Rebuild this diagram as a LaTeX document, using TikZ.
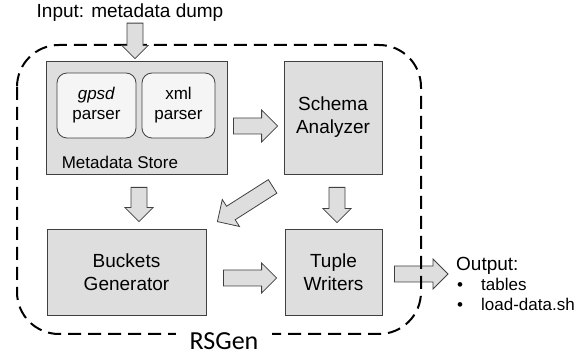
\documentclass[tikz,border=0pt]{standalone}
\usepackage{fontspec}
\setmainfont{Liberation Sans}
\newfontfamily\rsfont{Carlito}
\usepackage{tikz}
\usetikzlibrary{calc}

\newcommand{\bigtxt}{\fontsize{19}{23}\selectfont}
\newcommand{\subtxt}{\fontsize{17}{20}\selectfont}

% block arrow: [half head width]{from}{to}
\newcommand{\fatarrow}[3][15]{%
	\coordinate (fa-s) at (#2);
	\coordinate (fa-e) at (#3);
	\coordinate (fa-h) at ($(fa-e)!#1pt!(fa-s)$);
	\draw[fat arrow] ($(fa-s)!8pt!90:(fa-e)$) -- ($(fa-h)!8pt!90:(fa-e)$)
	-- ($(fa-h)!#1pt!90:(fa-e)$) -- (fa-e) -- ($(fa-h)!#1pt!-90:(fa-e)$)
	-- ($(fa-h)!8pt!-90:(fa-e)$) -- ($(fa-s)!8pt!-90:(fa-e)$) -- cycle;}

\begin{document}
\begin{tikzpicture}[x=1pt,y=-1pt,
	box/.style={rectangle, draw=black!75, fill=black!13, line width=0.8pt, align=center, font=\bigtxt},
	parser/.style={rectangle, rounded corners=10pt, draw=black!75, fill=black!4, line width=0.8pt, align=center, font=\subtxt, minimum height=65pt},
	fat arrow/.style={draw=black!75, fill=black!13, line width=0.8pt},
	txt/.style={inner sep=0pt},
	region/.style={draw=black, line width=2pt, dash pattern=on 13pt off 7pt, rounded corners=42pt}]
	\useasboundingbox (0,0) rectangle (587,355);
	
	% Nodes
	\node[box, minimum width=181pt, minimum height=113pt] (meta) at (136.5,117.5) {};
	\node[parser, minimum width=79pt] (gpsd) at (96.5,105.5) {\textit{gpsd}\\parser};
	\node[parser, minimum width=73pt] (xml) at (178.5,105.5) {xml\\parser};
	\node[txt, anchor=base west, font=\subtxt] (store) at ($(meta.south west)+(16,-6)$) {Metadata Store};
	\node[box, minimum width=98pt, minimum height=113pt] (schema) at (333,117.5) {Schema\\Analyzer};
	\node[box, minimum width=159pt, minimum height=86pt] (buckets) at (126.5,272) {Buckets\\Generator};
	\node[box, minimum width=97pt, minimum height=86pt] (tuple) at (333.5,272) {Tuple\\Writers};
	
	\node[txt, anchor=base, font=\bigtxt] (input) at (130,17.5) {Input: metadata dump};
	\node[txt, anchor=base west, font=\bigtxt] (output) at (456,270.7) {Output:};
	\node[txt, anchor=base west, font=\subtxt] (out1) at (457,290.7) {\makebox[24pt][l]{\textbullet}tables};
	\node[txt, anchor=base west, font=\subtxt] (out2) at (457,310.7) {\makebox[24pt][l]{\textbullet}load-data.sh};
	
	% Arrows
	\fatarrow[16]{$(meta.east)+(6,8.5)$}{$(schema.west)+(-6,8.5)$}
	\fatarrow[14]{$(meta.south)+(2.5,13)$}{$(buckets.north)+(12.5,-7)$}
	\fatarrow[14]{$(schema.south)+(4,13)$}{$(tuple.north)+(3.5,-6)$}
	\fatarrow[16]{$(schema.south west)+(-11,12)$}{$(buckets.north east)+(11,-7)$}
	\fatarrow[15]{$(buckets.east)+(17,6)$}{$(tuple.west)+(-8,6)$}
	\fatarrow[15]{$(tuple.east)+(12,2)$}{$(output.base west)+(-8,3.3)$}
	
	% RSGen region
	\draw[region] (17,45) rectangle (421,334);
	\node[fill=white, inner xsep=14pt, inner ysep=1pt, font=\rsfont\fontsize{26}{30}\selectfont] (rsgen) at (224,341.5) {RSGen};
	
	\fatarrow[13]{$(input.south)+(5,1.5)$}{$(meta.north)+(-1.5,-2)$}
	
\end{tikzpicture}
\end{document}
